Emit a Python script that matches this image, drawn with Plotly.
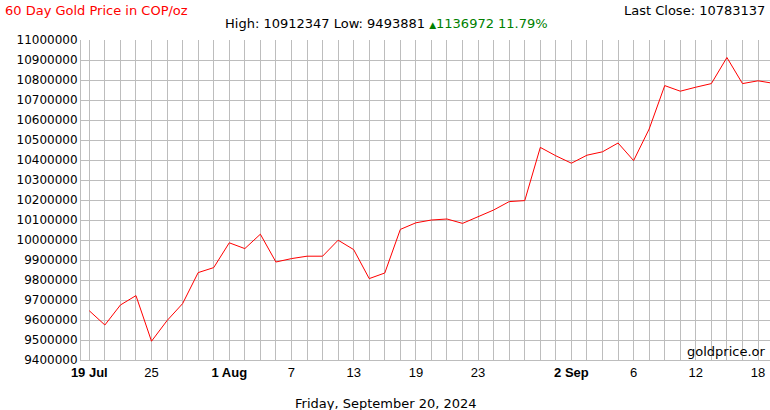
import plotly.graph_objects as go

dates = ["2024-07-19", "2024-07-22", "2024-07-23", "2024-07-24", "2024-07-25", "2024-07-26",
         "2024-07-29", "2024-07-30", "2024-07-31", "2024-08-01", "2024-08-02",
         "2024-08-05", "2024-08-06", "2024-08-07", "2024-08-08", "2024-08-09",
         "2024-08-12", "2024-08-13", "2024-08-14", "2024-08-15", "2024-08-16",
         "2024-08-19", "2024-08-20", "2024-08-21", "2024-08-22", "2024-08-23",
         "2024-08-26", "2024-08-27", "2024-08-28", "2024-08-29", "2024-08-30",
         "2024-09-02", "2024-09-03", "2024-09-04", "2024-09-05", "2024-09-06",
         "2024-09-09", "2024-09-10", "2024-09-11", "2024-09-12", "2024-09-13",
         "2024-09-16", "2024-09-17", "2024-09-18", "2024-09-19"]
prices = [9646165, 9575000, 9675000, 9722000, 9493881, 9597000,
          9682000, 9837000, 9862000, 9986000, 9957000,
          10029000, 9890000, 9907000, 9919000, 9919000,
          9999000, 9952000, 9807000, 9835000, 10053000,
          10086000, 10100000, 10105000, 10083000, 10116000,
          10150000, 10192000, 10197000, 10463000, 10421000,
          10384000, 10424000, 10441000, 10485000, 10397000,
          10555000, 10772000, 10744000, 10764000, 10782000,
          10912347, 10782000, 10796000, 10783137]

tick_dates = ["2024-07-19", "2024-07-25", "2024-08-01", "2024-08-07", "2024-08-13", "2024-08-19",
              "2024-08-23", "2024-09-02", "2024-09-06", "2024-09-12", "2024-09-18"]
tick_labels = ["<b>19 Jul</b>", "25", "<b>1 Aug</b>", "7", "13", "19", "23", "<b>2 Sep</b>", "6", "12", "18"]

title_text = "60 Day Gold Price in COP/oz"
high_val, low_val, change_val, change_pct = 10912347, 9493881, 1136972, 11.79
last_close = 10783137
date_text = "Friday, September 20, 2024"
watermark = "goldprice.or"

W, H = 770, 410
L, R, T, B = 81, 0, 40, 50
pw, ph = W - L - R, H - T - B

def px(x):
    return (x - L) / pw

def py(y):
    return (H - B - y) / ph

idx = list(range(len(dates)))
label_map = dict(zip(tick_dates, tick_labels))
ticktext = [label_map.get(d, "") for d in dates]

fig = go.Figure()
fig.add_trace(go.Scatter(x=idx, y=prices, mode="lines",
                         line=dict(color="#ff0000", width=1), hoverinfo="skip"))

grid = "#bdbdbd"
fig.update_layout(
    width=W, height=H,
    margin=dict(l=L, r=R, t=T, b=B),
    paper_bgcolor="white", plot_bgcolor="white",
    showlegend=False,
    font=dict(family="DejaVu Sans", size=12, color="#000000"),
    xaxis=dict(range=[-0.534, 43.77], tickmode="array", tickvals=idx, ticktext=ticktext,
               showgrid=True, gridcolor=grid, gridwidth=1, zeroline=False,
               showline=True, linecolor=grid, linewidth=1, ticks="",
               tickfont=dict(family="Liberation Sans", size=13, color="#000000")),
    yaxis=dict(range=[9400000, 11000000], dtick=100000, tick0=9400000, tickformat="d",
               showgrid=True, gridcolor=grid, gridwidth=1, zeroline=False,
               showline=True, linecolor=grid, linewidth=1, ticks="",
               tickfont=dict(family="DejaVu Sans", size=12, color="#000000")),
)

ann = []
ann.append(dict(text=title_text, x=px(3), y=py(10), xanchor="left", yanchor="middle",
                font=dict(family="DejaVu Sans", size=13, color="#ff0000")))
ann.append(dict(text=f"Last Close: {last_close}", x=px(767), y=py(10), xanchor="right", yanchor="middle",
                font=dict(family="DejaVu Sans", size=13, color="#000000")))
hl = (f"High: {high_val} Low: {low_val} "
      f"<span style='color:#008000'><span style='font-size:9px'>▲</span>{change_val} {change_pct:.2f}%</span>")
ann.append(dict(text=hl, x=px(386), y=py(24), xanchor="center", yanchor="middle",
                font=dict(family="DejaVu Sans", size=13, color="#000000")))
ann.append(dict(text=date_text, x=px(386), y=py(403), xanchor="center", yanchor="middle",
                font=dict(family="DejaVu Sans", size=13, color="#000000")))
ann.append(dict(text=watermark, x=px(768), y=py(351), xanchor="right", yanchor="middle",
                font=dict(family="DejaVu Sans", size=13, color="#000000")))
for a in ann:
    a.update(xref="paper", yref="paper", showarrow=False)
fig.update_layout(annotations=ann)

fig.write_html("out.html")
